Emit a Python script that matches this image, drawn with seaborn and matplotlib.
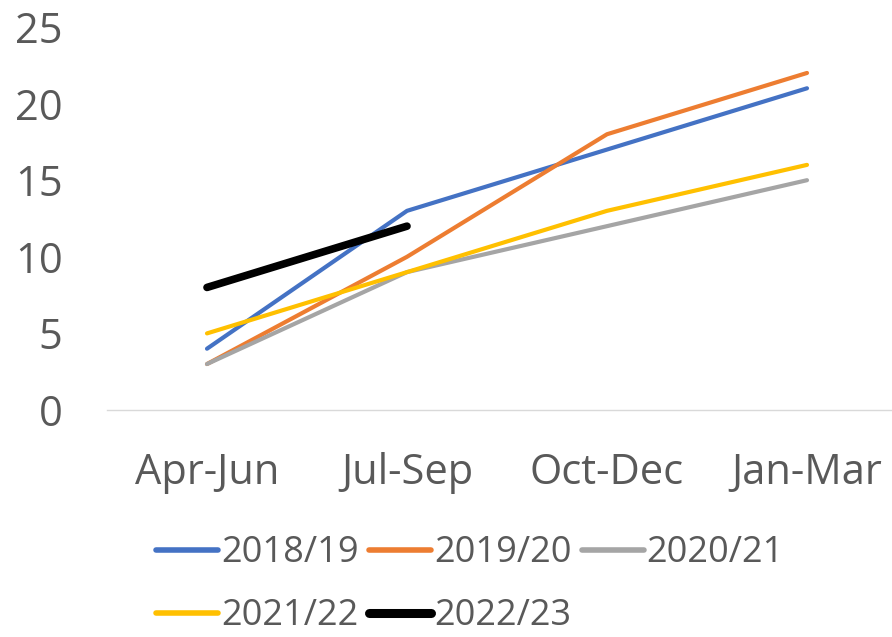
import matplotlib
matplotlib.use('Agg')
import matplotlib.pyplot as plt
import pandas as pd
import seaborn as sns

quarters = ['Apr-Jun', 'Jul-Sep', 'Oct-Dec', 'Jan-Mar']
years = ['2018/19', '2019/20', '2020/21', '2021/22', '2022/23']
v_2018 = [4, 13, 17, 21]
v_2019 = [3, 10, 18, 22]
v_2020 = [3, 9, 12, 15]
v_2021 = [5, 9, 13, 16]
v_2022 = [8, 12]
colors = ['#4472C4', '#ED7D31', '#A5A5A5', '#FFC000', '#000000']

rows = []
for year, vals in zip(years, [v_2018, v_2019, v_2020, v_2021, v_2022]):
    for i, v in enumerate(vals):
        rows.append({'quarter': i, 'year': year, 'value': v})
df = pd.DataFrame(rows)

sns.set_style('white')
plt.rcParams['font.family'] = ['Open Sans', 'DejaVu Sans']

fig = plt.figure(figsize=(8.92, 6.37), dpi=100)
ax = fig.add_axes([107 / 892, 227 / 637, 785 / 892, 383 / 637])

sns.lineplot(data=df, x='quarter', y='value', hue='year', hue_order=years,
             palette=colors, linewidth=3, ax=ax, legend=False)
ax.lines[-1].set_linewidth(5.5)

ax.set_xlim(-0.5, 3.425)
ax.set_ylim(0, 25)
ax.set_xticks(range(4))
ax.set_xticklabels(quarters)
ax.set_yticks(range(0, 26, 5))
ax.set_xlabel('')
ax.set_ylabel('')
ax.tick_params(axis='both', labelsize=30, colors='#595959', length=0)
ax.tick_params(axis='x', pad=30)
ax.tick_params(axis='y', pad=32)
for s in ['top', 'right', 'left']:
    ax.spines[s].set_visible(False)
ax.spines['bottom'].set_color('#D9D9D9')
ax.spines['bottom'].set_linewidth(1)

# legend fills by column, so reorder to read row-wise like the original
order = [0, 3, 1, 4, 2]
handles = [plt.Line2D([], [], color=colors[i],
                      linewidth=6.5 if years[i] == '2022/23' else 4)
           for i in order]
labels = [years[i] for i in order]
fig.legend(handles, labels, loc='lower center', bbox_to_anchor=(0.527, -0.047),
           ncol=3, frameon=False, fontsize=26, labelcolor='#595959',
           handlelength=1.72, handletextpad=0.08, columnspacing=0.28,
           labelspacing=0.75)

fig.savefig('out.png', dpi=100)
